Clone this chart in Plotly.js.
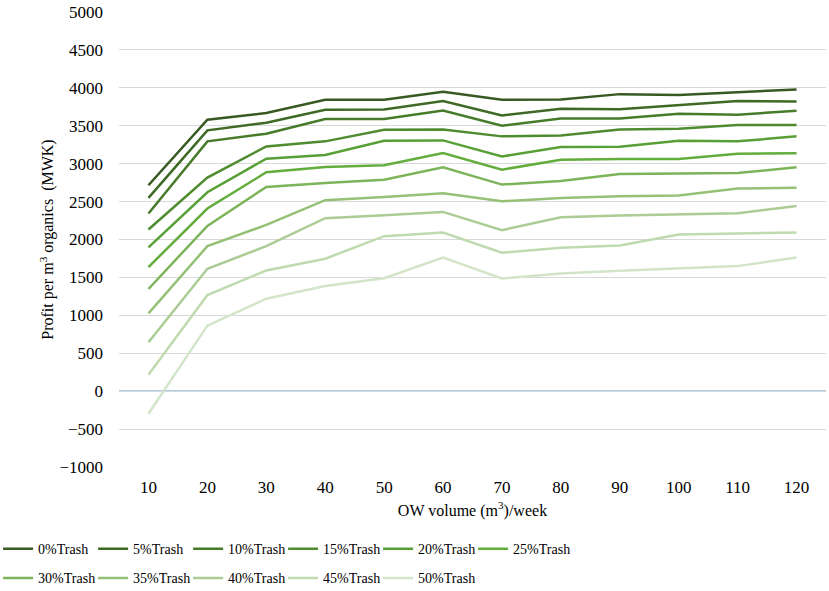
<!DOCTYPE html>
<html>
<head>
<meta charset="utf-8">
<script src="https://cdn.plot.ly/plotly-3.0.1.min.js"></script>
<style>html,body{margin:0;padding:0;background:#fff;}#chart{width:829px;height:591px;}</style>
</head>
<body>
<div id="chart"></div>
<script>
var volumes = ['10','20','30','40','50','60','70','80','90','100','110','120'];
var seriesNames = ['0%Trash','5%Trash','10%Trash','15%Trash','20%Trash','25%Trash','30%Trash','35%Trash','40%Trash','45%Trash','50%Trash'];
var trash0  = [2715,3579,3667,3842,3842,3947,3842,3846,3917,3904,3943,3978];
var trash5  = [2548,3439,3540,3711,3715,3825,3636,3724,3719,3776,3825,3820];
var trash10 = [2342,3294,3395,3588,3588,3702,3500,3596,3596,3658,3645,3697];
var trash15 = [2132,2816,3228,3294,3447,3452,3360,3373,3452,3461,3509,3509];
var trash20 = [1895,2623,3066,3114,3303,3307,3096,3219,3224,3303,3294,3360];
var trash25 = [1636,2408,2886,2956,2978,3140,2921,3053,3061,3061,3132,3136];
var trash30 = [1347,2180,2693,2746,2789,2952,2724,2772,2864,2868,2877,2952];
var trash35 = [1026,1912,2193,2518,2561,2610,2504,2548,2570,2579,2671,2684];
var trash40 = [645,1614,1912,2281,2320,2364,2123,2294,2316,2333,2347,2443];
var trash45 = [215,1268,1592,1746,2044,2092,1825,1890,1921,2066,2079,2092];
var trash50 = [-298,864,1219,1386,1490,1763,1487,1553,1588,1614,1649,1763];
var allSeries = [trash0,trash5,trash10,trash15,trash20,trash25,trash30,trash35,trash40,trash45,trash50];
var colors = ['#375a22','#3e6a25','#467b2a','#4f8c30','#58a035','#63ad3d','#7db45a','#95c177','#abcd95','#bfdaaf','#d3e5c8'];

var traces = allSeries.map(function(vals, i){
  var t = {
    type:'scatter', mode:'lines', x: volumes, y: vals, name: seriesNames[i],
    line:{color: colors[i], width: 2.5},
    legend: i < 6 ? 'legend' : 'legend2'
  };
  if (i === 5 || i === 10) t.legendwidth = 64;
  return t;
});

var serif = 'Liberation Serif, Times New Roman, serif';
var tickFont = {family:serif, size:17, color:'#000'};
var titleFont = {family:serif, size:16, color:'#000'};
var legFont = {family:serif, size:14, color:'#000'};
var legendCommon = {orientation:'h', xanchor:'left', yanchor:'top', font:legFont,
  entrywidth:50, entrywidthmode:'pixels', itemwidth:30, bgcolor:'rgba(0,0,0,0)', tracegroupgap:0};

var layout = {
  width:829, height:591,
  margin:{l:119, r:3, t:12, b:124, autoexpand:false},
  paper_bgcolor:'#fff', plot_bgcolor:'#fff',
  font: titleFont,
  showlegend:true,
  legend: Object.assign({x:-0.171, y:-0.1454}, legendCommon),
  legend2: Object.assign({x:-0.171, y:-0.2094}, legendCommon),
  xaxis:{
    type:'category', range:[-0.5, 11.5], showgrid:false, zeroline:false, automargin:false,
    showline:false, ticks:'', tickfont:tickFont, ticklabelstandoff:8,
    title:{text:'OW volume (m<sup>3</sup>)/week', font:titleFont, standoff:8}
  },
  yaxis:{
    range:[-1000, 5000], dtick:500, showgrid:true, gridcolor:'#d9d9d9', gridwidth:1,
    zeroline:false, automargin:false,
    showline:false, ticks:'', tickfont:tickFont, ticklabelstandoff:15,
    title:{text:'Profit per m<sup>3</sup> organics  (MWK)', font:titleFont, standoff:1}
  },
  shapes:[{type:'line', xref:'x', x0:-0.5, x1:11.5, yref:'y', y0:0, y1:0,
    line:{color:'#5b9bd5', width:1.2}, layer:'below'}]
};

Plotly.newPlot('chart', traces, layout, {displayModeBar:false, staticPlot:true});
</script>
</body>
</html>
